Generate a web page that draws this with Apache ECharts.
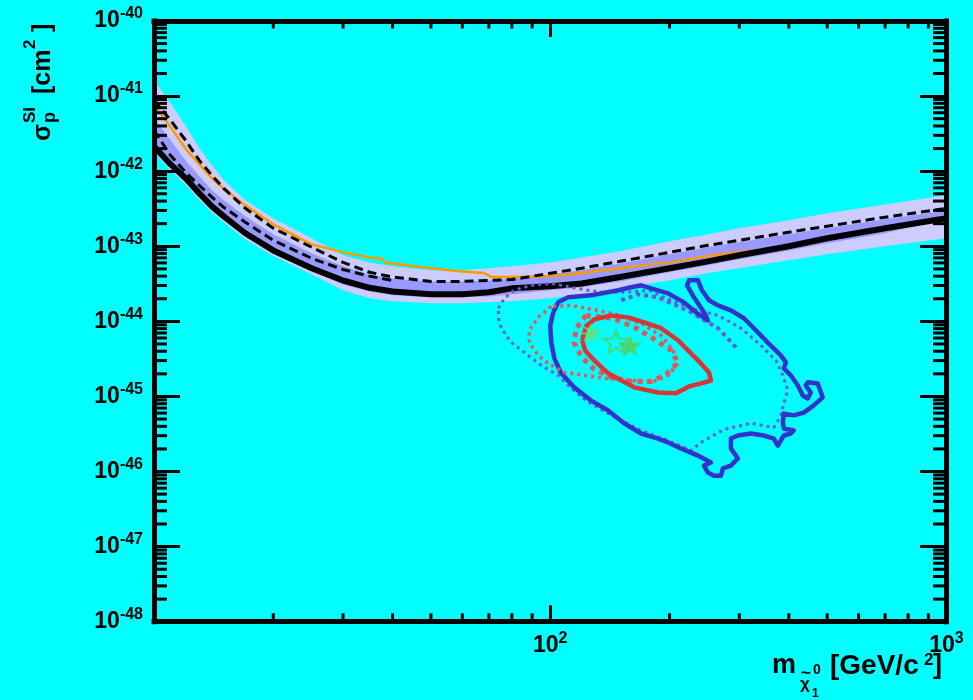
<!DOCTYPE html>
<html>
<head>
<meta charset="utf-8">
<title>Spin-independent WIMP-nucleon cross-section limits</title>
<script src="https://cdn.jsdelivr.net/npm/echarts@6.0.0/dist/echarts.min.js"></script>
<style>
  html, body { margin: 0; padding: 0; background: #00ffff; }
  #chart { width: 973px; height: 700px; }
</style>
</head>
<body>
<div id="chart"></div>
<script>
const FONT = '"Liberation Sans", Arial, Helvetica, sans-serif';
// The log axis runs in units of 1e-48 cm^2 so that tick values stay clear of float rounding.
const SIGMA_UNIT = 1e-48;

// Neutralino mass grid (GeV/c^2) for the exclusion curves
const massGrid = [10, 11, 12, 13, 14, 15, 17, 20, 25, 30, 35, 40, 50, 60, 70, 80, 100, 120, 150, 200, 250, 300, 400, 500, 700, 1000];

// Observed 90% CL upper limit (cm^2)
const observedLimit = [2.15e-42, 1.24e-42, 8.1e-43, 5.1e-43, 3.4e-43, 2.5e-43, 1.49e-43, 8.8e-44, 5.1e-44, 3.5e-44, 2.8e-44, 2.5e-44, 2.29e-44, 2.29e-44, 2.44e-44, 2.75e-44, 2.93e-44, 3.2e-44, 3.9e-44, 5.1e-44, 6.3e-44, 7.6e-44, 1.0e-43, 1.28e-43, 1.74e-43, 2.36e-43];

// Expected sensitivity (median) and the low-mass variant
const expectedLimit = [8.8e-42, 4.8e-42, 2.6e-42, 1.40e-42, 8.8e-43, 5.9e-43, 3.2e-43, 1.74e-43, 9.7e-44, 6.1e-44, 4.5e-44, 3.9e-44, 3.4e-44, 3.4e-44, 3.5e-44, 3.6e-44, 4.37e-44, 5.1e-44, 6.3e-44, 8.3e-44, 1.03e-43, 1.20e-43, 1.54e-43, 1.85e-43, 2.44e-43, 3.2e-43];
const expectedLowMass = [10, 11, 12, 13, 14, 15, 17, 20, 25, 30, 35, 40];
const expectedLowLimit = [3.5e-42, 1.63e-42, 9.7e-43, 6.5e-43, 4.5e-43, 3.3e-43, 2.09e-43, 1.20e-43, 6.9e-44, 4.9e-44, 4.0e-44, 3.5e-44];

// Sensitivity bands (+-2 sigma, +-1 sigma)
const band2sUpper = [1.63e-41, 8.1e-42, 4.1e-42, 2.03e-42, 1.20e-42, 7.6e-43, 4.1e-43, 2.36e-43, 1.28e-43, 7.6e-44, 6.1e-44, 5.4e-44, 4.8e-44, 4.8e-44, 5.1e-44, 5.4e-44, 6.1e-44, 7.1e-44, 8.6e-44, 1.17e-43, 1.45e-43, 1.74e-43, 2.22e-43, 2.75e-43, 3.6e-43, 4.8e-43];
const band2sLower = [1.79e-42, 1.03e-42, 6.7e-43, 4.2e-43, 2.84e-43, 2.09e-43, 1.24e-43, 7.4e-44, 4.2e-44, 2.59e-44, 2.03e-44, 1.85e-44, 1.74e-44, 1.74e-44, 1.79e-44, 1.85e-44, 2.03e-44, 2.29e-44, 2.75e-44, 3.5e-44, 4.4e-44, 5.1e-44, 6.5e-44, 7.8e-44, 1.0e-43, 1.28e-43];
const band1sUpper = [5.1e-42, 2.6e-42, 1.40e-42, 8.6e-43, 5.6e-43, 4.1e-43, 2.51e-43, 1.45e-43, 8.1e-44, 5.4e-44, 4.2e-44, 3.7e-44, 3.4e-44, 3.4e-44, 3.5e-44, 3.7e-44, 4.2e-44, 4.8e-44, 5.9e-44, 7.8e-44, 9.7e-44, 1.13e-43, 1.45e-43, 1.74e-43, 2.29e-43, 3.0e-43];
const band1sLower = [1.9e-42, 1.13e-42, 7.4e-43, 4.6e-43, 3.1e-43, 2.29e-43, 1.36e-43, 8.1e-44, 4.6e-44, 3.1e-44, 2.5e-44, 2.22e-44, 2.09e-44, 2.09e-44, 2.15e-44, 2.29e-44, 2.59e-44, 2.84e-44, 3.4e-44, 4.5e-44, 5.6e-44, 6.7e-44, 8.8e-44, 1.10e-43, 1.49e-43, 2.36e-43];

// Earlier result (orange)
const previousMass = [10, 11, 12, 13, 14, 15, 17, 20, 25, 30, 35, 37.5, 38.5, 40, 50, 60, 68, 71, 80, 100, 120, 150, 200, 250, 300, 350];
const previousLimit = [7.6e-42, 3.9e-42, 2.0e-42, 1.24e-42, 8.1e-43, 5.8e-43, 3.5e-43, 1.96e-43, 1.06e-43, 8.3e-44, 7.1e-44, 6.9e-44, 6.0e-44, 5.9e-44, 5.1e-44, 4.6e-44, 4.4e-44, 3.9e-44, 3.9e-44, 4.0e-44, 4.4e-44, 5.1e-44, 6.1e-44, 7.4e-44, 8.3e-44, 9.1e-44];

// Favoured-region contours: [mass GeV/c^2, cross-section cm^2]
const blueContour = [
  [101.8, 1.32e-44], [104.7, 1.79e-44], [111.0, 2.09e-44], [126.8, 2.22e-44], [148.4, 2.59e-44], [160.0, 2.84e-44],
  [169.5, 3.02e-44], [179.7, 2.75e-44], [198.3, 2.36e-44], [217.5, 1.79e-44], [233.2, 1.32e-44], [250.0, 1.03e-44],
  [244.3, 1.32e-44], [230.5, 2.09e-44], [221.4, 3.02e-44], [224.0, 3.52e-44], [235.9, 3.52e-44], [241.5, 2.59e-44],
  [251.5, 1.91e-44], [265.0, 1.63e-44], [285.7, 1.40e-44], [308.2, 1.10e-44], [326.5, 8.1e-45], [354.0, 5.2e-45],
  [381.8, 3.52e-45], [393.1, 2.84e-45], [388.5, 2.36e-45], [404.6, 1.91e-45], [421.4, 1.40e-45], [433.9, 1.03e-45],
  [446.7, 9.4e-46], [454.4, 1.13e-45], [441.4, 1.40e-45], [446.7, 1.54e-45], [473.3, 1.49e-45], [487.2, 9.7e-46],
  [462.4, 7.6e-46], [436.3, 6.1e-46], [411.7, 5.6e-46], [388.5, 5.9e-46], [386.3, 4.5e-46], [388.5, 3.74e-46],
  [411.7, 3.52e-46], [404.6, 3.21e-46], [388.5, 3.02e-46], [375.2, 2.22e-46], [366.6, 2.75e-46], [345.9, 3.02e-46],
  [320.8, 3.21e-46], [297.5, 3.02e-46], [285.7, 2.75e-46], [285.7, 2.03e-46], [297.5, 1.49e-46], [285.7, 1.20e-46],
  [272.8, 1.10e-46], [269.6, 8.8e-47], [258.9, 8.8e-47], [250.0, 9.7e-47], [244.3, 1.20e-46], [254.4, 1.32e-46],
  [235.9, 1.63e-46], [213.8, 2.03e-46], [198.3, 2.44e-46], [187.1, 2.75e-46], [169.5, 3.21e-46], [153.6, 4.4e-46],
  [140.0, 6.5e-46], [126.8, 8.8e-46], [114.9, 1.32e-45], [106.6, 2.03e-45], [102.4, 3.21e-45], [100.6, 5.2e-45],
  [100.0, 8.8e-45], [101.8, 1.32e-44]
];
const purpleDotted = [
  [74.0, 1.49e-44], [76.6, 2.03e-44], [81.1, 2.59e-44], [89.6, 3.02e-44], [100.6, 3.21e-44], [116.3, 2.75e-44],
  [134.4, 2.44e-44], [155.4, 2.44e-44], [177.6, 2.59e-44], [196.0, 2.03e-44], [226.5, 1.49e-44], [265.0, 1.20e-44],
  [302.8, 8.1e-45], [340.0, 4.8e-45], [370.9, 3.02e-45], [386.3, 1.91e-45], [397.7, 1.20e-45], [388.5, 8.1e-46],
  [381.8, 5.6e-46], [366.6, 3.86e-46], [320.8, 4.4e-46], [274.4, 3.63e-46], [240.1, 2.44e-46], [226.5, 1.91e-46],
  [198.3, 2.59e-46], [169.5, 3.52e-46], [142.5, 5.6e-46], [123.2, 8.8e-46], [112.9, 1.28e-45], [104.7, 1.91e-45],
  [94.9, 2.59e-45], [86.0, 3.86e-45], [79.8, 5.2e-45], [75.3, 8.1e-45], [74.0, 1.10e-44], [74.0, 1.49e-44]
];
const purpleDashed = [
  [151.0, 1.91e-44], [166.6, 2.29e-44], [187.1, 2.09e-44], [201.8, 1.74e-44], [222.6, 1.40e-44], [240.1, 1.10e-44],
  [265.0, 8.1e-45], [280.8, 5.9e-45], [294.1, 4.5e-45]
];
const redSolid = [
  [120.4, 5.6e-45], [123.2, 8.6e-45], [129.1, 1.06e-44], [142.5, 1.20e-44], [157.2, 1.13e-44], [172.5, 9.7e-45],
  [190.4, 8.1e-45], [210.1, 5.6e-45], [226.5, 3.74e-45], [240.1, 2.75e-45], [251.5, 2.09e-45], [254.4, 1.63e-45],
  [240.1, 1.49e-45], [224.0, 1.36e-45], [207.7, 1.10e-45], [187.1, 1.13e-45], [162.8, 1.32e-45], [140.0, 2.03e-45],
  [129.1, 3.02e-45], [122.5, 4.1e-45], [120.4, 5.6e-45]
];
const redDotted = [
  [100.6, 1.58e-44], [93.3, 1.13e-44], [88.5, 7.6e-45], [88.5, 5.2e-45], [93.3, 3.52e-45], [98.9, 2.75e-45],
  [108.5, 2.09e-45], [121.8, 1.91e-45], [138.4, 1.74e-45], [162.8, 1.63e-45], [179.7, 1.54e-45], [198.3, 1.91e-45],
  [210.1, 2.75e-45], [204.2, 4.1e-45], [190.4, 6.5e-45], [169.5, 9.4e-45], [146.6, 1.24e-44], [126.8, 1.45e-44],
  [112.9, 1.63e-44], [100.6, 1.58e-44]
];
const redDashed = [
  [123.2, 1.20e-44], [116.3, 8.1e-45], [114.9, 5.2e-45], [119.7, 3.41e-45], [128.3, 2.36e-45], [142.5, 1.79e-45],
  [160.0, 1.58e-45], [179.7, 1.58e-45], [196.0, 1.97e-45], [210.1, 2.84e-45], [201.8, 4.1e-45], [184.9, 5.6e-45],
  [164.7, 8.1e-45], [144.1, 1.10e-44], [123.2, 1.20e-44]
];

// Best-fit points
const bestFitAsterisk = [126.8, 6.9e-45];
const bestFitOpenStar = [146.6, 5.4e-45];
const bestFitStar = [159.0, 4.8e-45];

// Frame minor ticks (2..9 per decade)
const xMinorTicks = [20, 30, 40, 50, 60, 70, 80, 90, 200, 300, 400, 500, 600, 700, 800, 900];
const yMinorTicks = []; // in axis units (1e-48 cm^2)
for (let d = 0; d < 8; d++) for (let k = 2; k <= 9; k++) yMinorTicks.push(k * Math.pow(10, d));

const toAxis = s => s / SIGMA_UNIT;
const curve = (masses, sigmas) => masses.map((m, i) => [m, toAxis(sigmas[i])]);
const pairs = list => list.map(([m, s]) => [m, toAxis(s)]);

const STAR = 'path://M10,0L12.35,6.76L19.51,6.91L13.8,11.24L15.88,18.09L10,14L4.12,18.09L6.2,11.24L0.49,6.91L7.65,6.76Z';
const ASTERISK = 'path://M0,10L20,10M10,0L10,20M2.9,2.9L17.1,17.1M17.1,2.9L2.9,17.1';

function lineSeries(name, data, color, width, type, z) {
  return {
    type: 'line', name, data, z, silent: true, showSymbol: false, symbol: 'none',
    lineStyle: { color, width, type, cap: 'butt', join: 'round' }
  };
}

function bandSeries(name, upper, lower, color) {
  return {
    type: 'custom', name, z: 1, silent: true, clip: true,
    data: [[massGrid[0], toAxis(upper[0])]],
    renderItem(params, api) {
      const pts = [];
      for (let i = 0; i < massGrid.length; i++) pts.push(api.coord([massGrid[i], toAxis(upper[i])]));
      for (let i = massGrid.length - 1; i >= 0; i--) pts.push(api.coord([massGrid[i], toAxis(lower[i])]));
      return { type: 'polygon', shape: { points: pts }, style: { fill: color } };
    }
  };
}

function text(str, x, y, size, rotation) {
  return {
    type: 'text', x, y, rotation: rotation || 0, silent: true, z: 30,
    style: { text: str, fill: '#000', font: `bold ${size}px ${FONT}`, textAlign: 'left', textVerticalAlign: 'middle' }
  };
}

const labelRich = {
  b: { fontSize: 23, fontWeight: 'bold', fontFamily: FONT, color: '#000', lineHeight: 23 },
  s: { fontSize: 16, fontWeight: 'bold', fontFamily: FONT, color: '#000', lineHeight: 16, padding: [0, 0, 14, 0] }
};

const axisCommon = {
  type: 'log', logBase: 10, interval: 1,
  splitLine: { show: false },
  axisLine: { show: true, lineStyle: { color: '#000', width: 5, cap: 'square' } },
  axisTick: { show: true, inside: true, lineStyle: { color: '#000', width: 3 } },
  z: 10
};

const chart = echarts.init(document.getElementById('chart'), null, { renderer: 'canvas' });
chart.setOption({
  backgroundColor: '#00ffff',
  animation: false,
  grid: { left: 154, right: 26.5, top: 21, bottom: 78.3, containLabel: false },
  xAxis: [
    Object.assign({}, axisCommon, {
      position: 'bottom', min: 10, max: 1000,
      axisTick: Object.assign({}, axisCommon.axisTick, { length: 16.5 }),
      axisLabel: {
        show: true, margin: 12, showMinLabel: false, showMaxLabel: true,
        formatter: v => `{b|10}{s|${Math.round(Math.log10(v))}}`, rich: labelRich
      }
    }),
    Object.assign({}, axisCommon, {
      position: 'top', min: 10, max: 1000,
      axisTick: Object.assign({}, axisCommon.axisTick, { length: 16 }),
      axisLabel: { show: false }
    })
  ],
  yAxis: [
    Object.assign({}, axisCommon, {
      position: 'left', min: 1, max: 1e8,
      axisTick: Object.assign({}, axisCommon.axisTick, { length: 26 }),
      axisLabel: {
        show: true, margin: 11, showMinLabel: true, showMaxLabel: true,
        formatter: v => `{b|10}{s|${Math.round(Math.log10(v)) - 48}}`, rich: labelRich
      }
    }),
    Object.assign({}, axisCommon, {
      position: 'right', min: 1, max: 1e8,
      axisTick: Object.assign({}, axisCommon.axisTick, { length: 26.5 }),
      axisLabel: { show: false }
    })
  ],
  series: [
    bandSeries('2 sigma', band2sUpper, band2sLower, '#ccccff'),
    bandSeries('1 sigma', band1sUpper, band1sLower, '#9999ff'),
    lineSeries('previous', curve(previousMass, previousLimit), '#ff9900', 2.5, 'solid', 3),
    lineSeries('observed', curve(massGrid, observedLimit), '#000000', 6, 'solid', 4),
    lineSeries('expected', curve(massGrid, expectedLimit), '#000000', 3, [9, 5], 5),
    lineSeries('expected low', curve(expectedLowMass, expectedLowLimit), '#000000', 3, [9, 5], 5),
    lineSeries('purple dotted', pairs(purpleDotted), '#6a5ad6', 3, [3, 4], 6),
    lineSeries('purple dashed', pairs(purpleDashed), '#6a5ad6', 4, [4, 4], 6),
    lineSeries('blue', pairs(blueContour), '#3333cc', 4.5, 'solid', 7),
    lineSeries('red dotted', pairs(redDotted), '#dd5a5a', 3.5, [3, 4], 7),
    lineSeries('red dashed', pairs(redDashed), '#dd5a5a', 5, [5, 5], 7),
    lineSeries('red', pairs(redSolid), '#d63636', 4.5, 'solid', 8),
    {
      type: 'scatter', name: 'asterisk', z: 9, silent: true,
      data: [pairs([bestFitAsterisk])[0]], symbol: ASTERISK, symbolSize: 19,
      itemStyle: { color: 'rgba(0,0,0,0)', borderColor: '#7fd84c', borderWidth: 2 }
    },
    {
      type: 'scatter', name: 'open star', z: 9, silent: true,
      data: [pairs([bestFitOpenStar])[0]], symbol: STAR, symbolSize: [25, 23],
      itemStyle: { color: 'rgba(0,0,0,0)', borderColor: '#62cc4e', borderWidth: 2 }
    },
    {
      type: 'scatter', name: 'star', z: 9, silent: true,
      data: [pairs([bestFitStar])[0]], symbol: STAR, symbolSize: [24, 22],
      itemStyle: { color: '#5ccc4c' }
    },
    {
      type: 'custom', name: 'minor ticks', z: 11, silent: true, clip: false,
      data: [[10, 1]],
      renderItem(params, api) {
        const cs = params.coordSys;
        const top = cs.y, bottom = cs.y + cs.height, left = cs.x, right = cs.x + cs.width;
        const st = { stroke: '#000', lineWidth: 3 };
        const kids = [];
        xMinorTicks.forEach(m => {
          const x = api.coord([m, 1])[0];
          kids.push({ type: 'line', shape: { x1: x, y1: bottom, x2: x, y2: bottom - 8.5 }, style: st });
          kids.push({ type: 'line', shape: { x1: x, y1: top, x2: x, y2: top + 7.5 }, style: st });
        });
        yMinorTicks.forEach(v => {
          const y = api.coord([10, v])[1];
          kids.push({ type: 'line', shape: { x1: left, y1: y, x2: left + 13, y2: y }, style: st });
          kids.push({ type: 'line', shape: { x1: right, y1: y, x2: right - 13.5, y2: y }, style: st });
        });
        return { type: 'group', children: kids };
      }
    }
  ],
  graphic: [
    // x-axis title: m_{chi~^0_1} [GeV/c^2]
    text('m', 772, 666, 27),
    text('χ', 800, 684, 17),
    text('~', 801, 673, 17),
    text('0', 813, 670, 14),
    text('1', 812, 694, 12),
    text('[GeV/c', 830, 666, 28),
    text('2', 924, 660, 17),
    text(']', 933, 666, 27),
    // y-axis title: sigma_p^SI [cm^2], read bottom to top
    text('σ', 43, 141, 25, Math.PI / 2),
    text('p', 50, 123, 18, Math.PI / 2),
    text('SI', 30, 123, 17, Math.PI / 2),
    text('[cm', 43, 94, 25, Math.PI / 2),
    text('2', 30, 49, 17, Math.PI / 2),
    text(']', 43, 32, 25, Math.PI / 2)
  ]
});
</script>
</body>
</html>
